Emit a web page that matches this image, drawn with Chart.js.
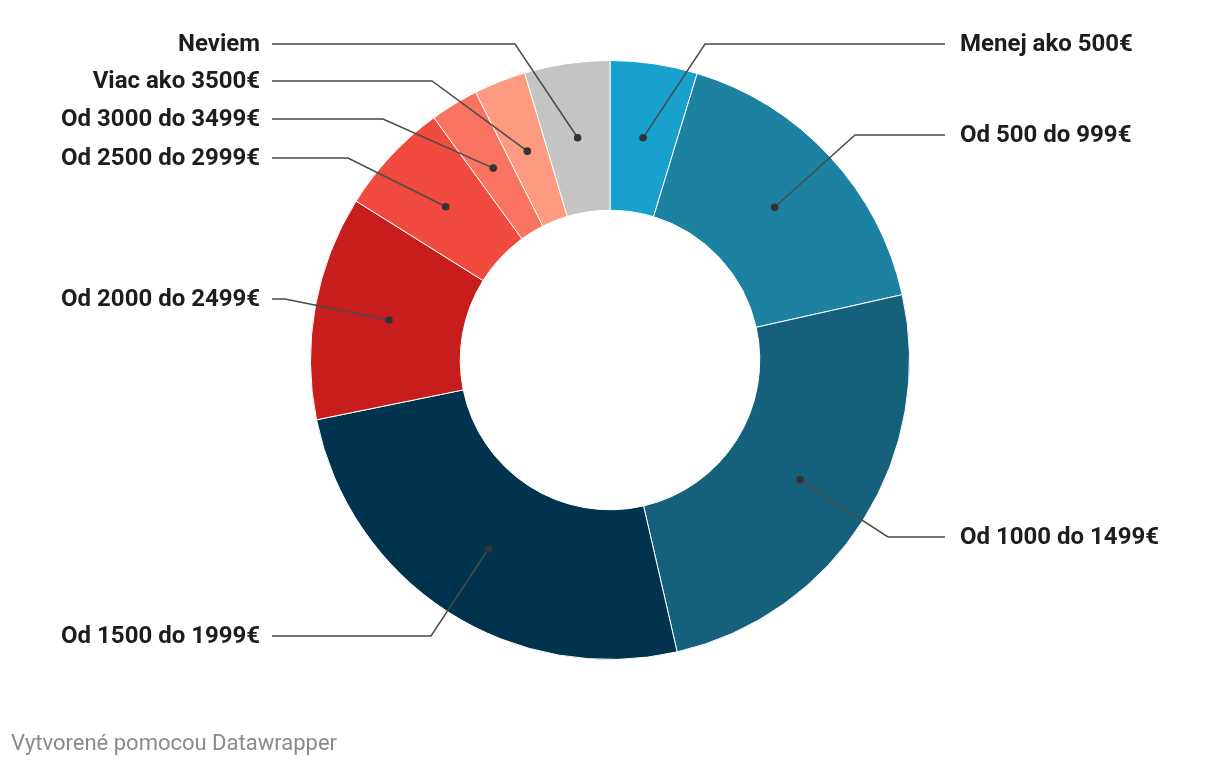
<!DOCTYPE html>
<html>
<head>
<meta charset="utf-8">
<script src="https://cdn.jsdelivr.net/npm/chart.js@4/dist/chart.umd.min.js"></script>
<style>
  html, body { margin: 0; padding: 0; background: #fff; }
  #wrap { position: relative; width: 1220px; height: 766px; }
  #footer { position: absolute; left: 11px; top: 730px; font-family: Roboto, sans-serif; font-size: 22px; line-height: 26px; color: #8a8a8a; }
</style>
</head>
<body>
<div id="wrap">
  <canvas id="c" width="1220" height="766"></canvas>
  <div id="footer">Vytvorené pomocou Datawrapper</div>
</div>
<script>
// Data
const categories = ["Menej ako 500€", "Od 500 do 999€", "Od 1000 do 1499€", "Od 1500 do 1999€", "Od 2000 do 2499€", "Od 2500 do 2999€", "Od 3000 do 3499€", "Viac ako 3500€", "Neviem"];
const values = [4.7, 16.8, 24.9, 25.4, 12.1, 6.1, 2.6, 2.8, 4.6];
const colors = ["#18a1cd", "#1d81a2", "#15607a", "#00344e", "#c71e1d", "#f04b3e", "#fa7360", "#fd9a80", "#c4c4c4"];

// Label layout (annotation placement, not data)
const labelSide = ["right", "right", "right", "left", "left", "left", "left", "left", "left"];
const labelY = [44, 135, 537, 636, 299, 158, 119, 81, 44];
const elbowX = [705, 855, 888, 431, 285, 348, 383, 432, 515];

const leaderPlugin = {
  id: 'leaders',
  afterDatasetsDraw(chart) {
    const ctx = chart.ctx;
    const arcs = chart.getDatasetMeta(0).data;
    ctx.save();
    arcs.forEach((arc, i) => {
      const p = arc.tooltipPosition();
      const right = labelSide[i] === 'right';
      const endX = right ? 945 : 272;
      ctx.strokeStyle = '#4a4a4a';
      ctx.lineWidth = 1.5;
      ctx.beginPath();
      ctx.moveTo(p.x, p.y);
      ctx.lineTo(elbowX[i], labelY[i]);
      ctx.lineTo(endX, labelY[i]);
      ctx.stroke();
      ctx.fillStyle = '#333';
      ctx.beginPath();
      ctx.arc(p.x, p.y, 3.8, 0, Math.PI * 2);
      ctx.fill();
      ctx.fillStyle = '#1d1d1d';
      ctx.font = 'bold 24px Roboto';
      ctx.textBaseline = 'middle';
      ctx.textAlign = right ? 'left' : 'right';
      ctx.fillText(categories[i], right ? 960 : 260, labelY[i] + 1);
    });
    ctx.restore();
  }
};

new Chart(document.getElementById('c'), {
  type: 'doughnut',
  data: {
    labels: categories,
    datasets: [{
      data: values,
      backgroundColor: colors,
      borderColor: '#ffffff',
      borderWidth: 1,
      hoverOffset: 0
    }]
  },
  options: {
    responsive: false,
    animation: false,
    cutout: '50%',
    layout: { padding: { top: 60, bottom: 106, left: 310, right: 310 } },
    plugins: { legend: { display: false }, tooltip: { enabled: false } }
  },
  plugins: [leaderPlugin]
});
</script>
</body>
</html>
